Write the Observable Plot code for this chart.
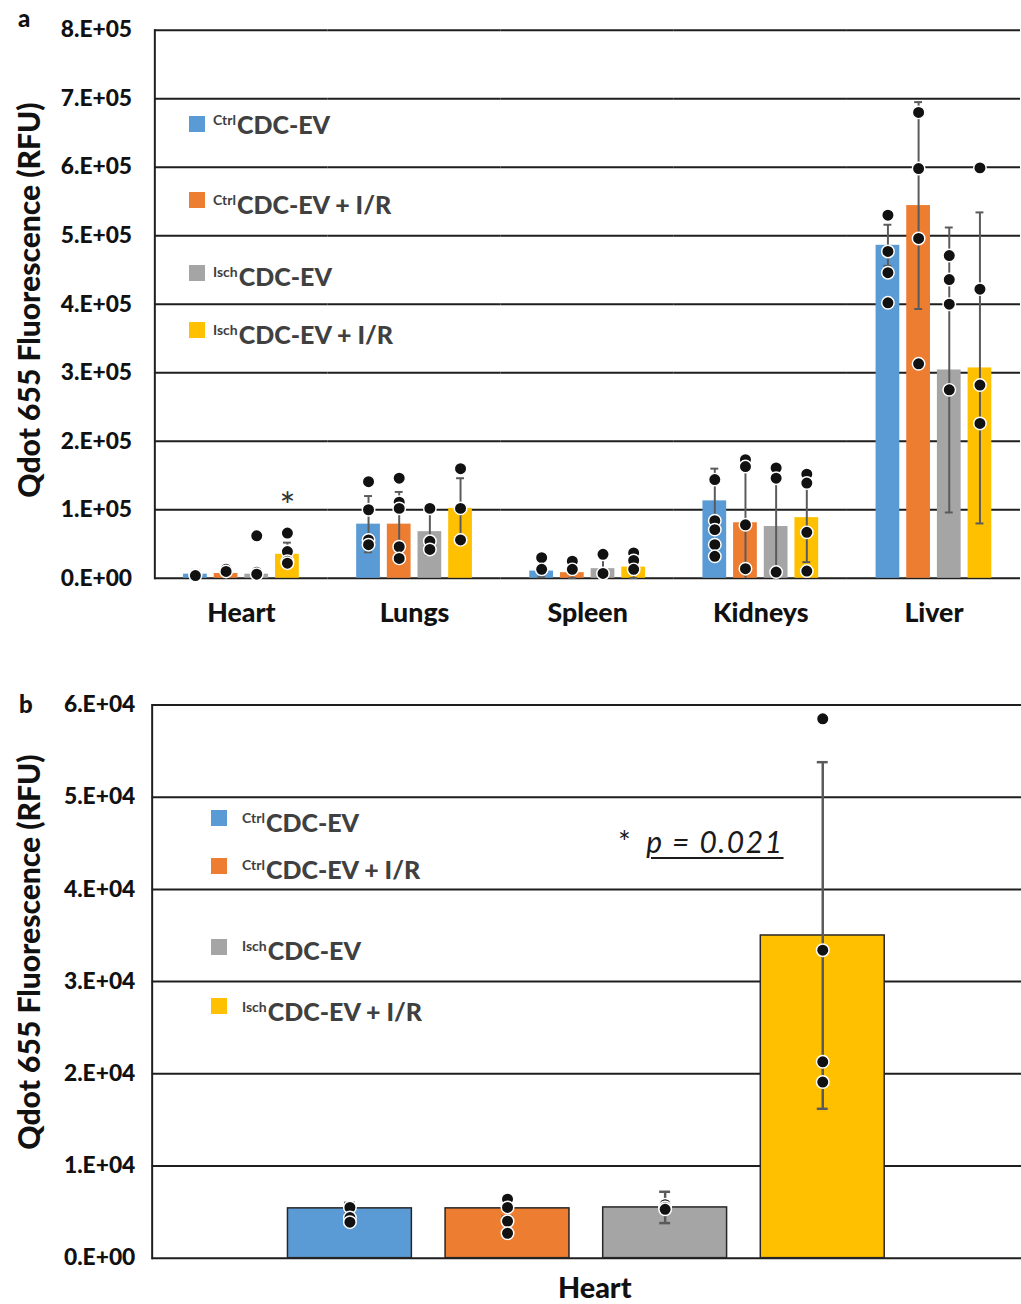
<!DOCTYPE html>
<html>
<head>
<meta charset="utf-8">
<script src="https://cdn.jsdelivr.net/npm/d3@7"></script>
<script src="https://cdn.jsdelivr.net/npm/@observablehq/plot@0.6"></script>
<style>
  html, body { margin: 0; padding: 0; background: white; }
  body { width: 1021px; font-family: Lato, "Open Sans", sans-serif; }
  .panel { position: relative; width: 1021px; overflow: hidden; background: white; }
  .panel svg { display: block; }
  .ov { position: absolute; white-space: nowrap; }
  .plabel { font-weight: 900; font-size: 24px; color: #111; line-height: 24px; }
  .ytitle { font-weight: 900; font-size: 30px; color: #111; line-height: 30px;
            transform: translate(-50%, -50%) rotate(-90deg); transform-origin: center; }
  .sq { position: absolute; width: 16px; height: 16px; }
  .leg { font-weight: 900; font-size: 25px; color: #404040; line-height: 25px; }
  .leg .sup { font-size: 14px; font-weight: 700; position: relative; top: -9px; margin-right: 1px; }
  .pval { font-size: 30px; color: #1a1a1a; line-height: 30px; }
  .pval i { text-decoration: underline; text-underline-offset: 4px; text-decoration-thickness: 2px; letter-spacing: 1.5px; }
</style>
</head>
<body>
<div id="panelA" class="panel" style="height:650px"></div>
<div id="panelB" class="panel" style="height:654px"></div>
<script>
// ---------- shared ----------
const groupKeys = ["Ctrl", "CtrlIR", "Isch", "IschIR"];
const groupSup = ["Ctrl", "Ctrl", "Isch", "Isch"];
const groupText = ["CDC-EV", "CDC-EV + I/R", "CDC-EV", "CDC-EV + I/R"];
const groupColors = ["#5B9BD5", "#ED7D31", "#A5A5A5", "#FFC000"];

// ---------- panel a data ----------
const organs = ["Heart", "Lungs", "Spleen", "Kidneys", "Liver"];
const meanCtrlA   = [6000, 79000, 10500, 113000, 486000];
const meanCtrlIRA = [7000, 79000, 8200, 81000, 544000];
const meanIschA   = [6000, 68000, 14000, 75500, 304000];
const meanIschIRA = [35000, 102000, 16300, 88500, 307000];
const sdCtrlA   = [2000, 41000, 9000, 47000, 30000];
const sdCtrlIRA = [3000, 47000, 8000, 88000, 151000];
const sdIschA   = [2000, 34000, 20000, 84000, 208000];
const sdIschIRA = [17000, 44000, 16000, 65000, 227000];
const ptsCtrlA = [[7000, 5000, 4000], [141000, 100000, 56000, 49000], [30000, 13000], [144000, 84000, 71000, 49000, 32000], [530000, 477000, 446000, 402000]];
const ptsCtrlIRA = [[13000, 10000], [146000, 111000, 102000, 46000, 29000], [25000, 13000], [173000, 163000, 78000, 14000], [680000, 598000, 496000, 313000]];
const ptsIschA = [[62000, 8700, 6000], [102000, 54000, 42000], [35000, 7000], [161000, 146000, 9000], [471000, 436000, 400000, 275000]];
const ptsIschIRA = [[66000, 39000, 25000, 22000], [160000, 102000, 56000], [37000, 26000, 13000], [152000, 139000, 67000, 10500], [599000, 422000, 282000, 226000]];
const ticksA = [0, 100000, 200000, 300000, 400000, 500000, 600000, 700000, 800000];
const tickLabelsA = ["0.E+00", "1.E+05", "2.E+05", "3.E+05", "4.E+05", "5.E+05", "6.E+05", "7.E+05", "8.E+05"];
const starOrganA = "Heart";
const starGroupA = "IschIR";

// ---------- panel b data ----------
const meanB = [5400, 5400, 5500, 35000];
const sdB = [600, 900, 1700, 18800];
const ptsB = [[5500, 4400, 3900], [6400, 5500, 4000, 2700], [5800, 5500, 5300], [58500, 33400, 21300, 19100]];
const ticksB = [0, 10000, 20000, 30000, 40000, 50000, 60000];
const tickLabelsB = ["0.E+00", "1.E+04", "2.E+04", "3.E+04", "4.E+04", "5.E+04", "6.E+04"];
const organB = "Heart";
const pText = "p = 0.021";

// ---------- build tables ----------
const meansA = [meanCtrlA, meanCtrlIRA, meanIschA, meanIschIRA];
const sdsA = [sdCtrlA, sdCtrlIRA, sdIschA, sdIschIRA];
const ptsA = [ptsCtrlA, ptsCtrlIRA, ptsIschA, ptsIschIRA];
const rowsA = organs.flatMap((o, i) => groupKeys.map((g, j) => ({organ: o, group: g, mean: meansA[j][i], sd: sdsA[j][i]})));
const dotsA = organs.flatMap((o, i) => groupKeys.flatMap((g, j) => ptsA[j][i].map(v => ({organ: o, group: g, value: v}))));
const starRows = rowsA.filter(d => d.organ === starOrganA && d.group === starGroupA);
const lo = d => Math.max(0, d.mean - d.sd);
const hi = d => d.mean + d.sd;

const rowsB = groupKeys.map((g, j) => ({group: g, mean: meanB[j], sd: sdB[j]}));
const dotsB = groupKeys.flatMap((g, j) => ptsB[j].map(v => ({group: g, value: v})));

const errColor = "#5a5a5a";
const gridColor = "#1e1e1e";

// ---------- panel a ----------
const plotA = Plot.plot({
  width: 1032, height: 650,
  marginLeft: 154, marginRight: 0, marginTop: 30, marginBottom: 66,
  style: {fontFamily: "Lato, sans-serif", background: "white", overflow: "visible"},
  fx: {domain: organs, padding: 0, label: null},
  x: {domain: groupKeys, paddingInner: 0.234, paddingOuter: 0.86, axis: null},
  y: {domain: [0, 800000], axis: null},
  color: {domain: groupKeys, range: groupColors},
  marks: [
    Plot.ruleY(ticksA, {stroke: gridColor, strokeWidth: 2}),
    Plot.barY(rowsA, {fx: "organ", x: "group", y: "mean", fill: "group"}),
    Plot.ruleX(rowsA, {fx: "organ", x: "group", y1: lo, y2: hi, stroke: errColor, strokeWidth: 2}),
    Plot.tickY(rowsA, {fx: "organ", x: "group", y: hi, inset: 8, stroke: errColor, strokeWidth: 2}),
    Plot.tickY(rowsA.filter(d => d.mean - d.sd > 0), {fx: "organ", x: "group", y: lo, inset: 8, stroke: errColor, strokeWidth: 2}),
    Plot.dot(dotsA, {fx: "organ", x: "group", y: "value", r: 6.3, fill: "#111", stroke: "white", strokeWidth: 1.5}),
    Plot.text(starRows, {fx: "organ", x: "group", y: hi, text: () => "*", dy: -36, fontSize: 38, fill: "#333"}),
    Plot.axisY({ticks: ticksA, tickFormat: d => tickLabelsA[ticksA.indexOf(d)], tickSize: 0, tickPadding: 23,
      fontSize: 23, fontWeight: 900, fill: "#111", label: null}),
    Plot.axisFx({anchor: "bottom", tickSize: 0, tickPadding: 25, fontSize: 27, fontWeight: 900, fill: "#111", label: null}),
    Plot.frame({anchor: "left", facetAnchor: "left", stroke: gridColor, strokeWidth: 2})
  ]
});
const pa = document.getElementById("panelA");
pa.appendChild(plotA);

// ---------- panel b ----------
const plotB = Plot.plot({
  width: 1030, height: 654,
  marginLeft: 153, marginRight: 0, marginTop: 55, marginBottom: 41,
  style: {fontFamily: "Lato, sans-serif", background: "white", overflow: "visible"},
  x: {domain: groupKeys, paddingInner: 0.212, paddingOuter: 0.86, axis: null},
  y: {domain: [0, 60000], axis: null},
  color: {domain: groupKeys, range: groupColors},
  marks: [
    Plot.ruleY(ticksB, {stroke: gridColor, strokeWidth: 2}),
    Plot.barY(rowsB, {x: "group", y: "mean", fill: "group", stroke: "#262626", strokeWidth: 1.5}),
    Plot.ruleX(rowsB, {x: "group", y1: lo, y2: hi, stroke: errColor, strokeWidth: 2.5}),
    Plot.tickY(rowsB, {x: "group", y: hi, inset: 57, stroke: errColor, strokeWidth: 2.5}),
    Plot.tickY(rowsB, {x: "group", y: lo, inset: 57, stroke: errColor, strokeWidth: 2.5}),
    Plot.dot(dotsB, {x: "group", y: "value", r: 6.3, fill: "#111", stroke: "white", strokeWidth: 1.5}),
    Plot.axisY({ticks: ticksB, tickFormat: d => tickLabelsB[ticksB.indexOf(d)], tickSize: 0, tickPadding: 17,
      fontSize: 23, fontWeight: 900, fill: "#111", label: null}),
    Plot.frame({anchor: "left", stroke: gridColor, strokeWidth: 2}),
    Plot.text([organB], {frameAnchor: "bottom", text: d => d, dx: 8, dy: 40, fontSize: 29, fontWeight: 900, fill: "#111"})
  ]
});
const pb = document.getElementById("panelB");
pb.appendChild(plotB);

// ---------- overlays ----------
function addDiv(parent, cls, html, left, top) {
  const d = document.createElement("div");
  d.className = "ov " + cls;
  d.innerHTML = html;
  d.style.left = left + "px";
  d.style.top = top + "px";
  parent.appendChild(d);
  return d;
}
addDiv(pa, "plabel", "a", 18, 6);
addDiv(pb, "plabel", "b", 19, 42);
addDiv(pa, "ytitle", "Qdot 655 Fluorescence (RFU)", 28, 300);
addDiv(pb, "ytitle", "Qdot 655 Fluorescence (RFU)", 28, 302);

function legend(parent, sqLeft, textLeft, sqTops, baselines) {
  groupKeys.forEach((g, j) => {
    const s = document.createElement("div");
    s.className = "sq";
    s.style.left = sqLeft + "px";
    s.style.top = sqTops[j] + "px";
    s.style.background = groupColors[j];
    parent.appendChild(s);
    addDiv(parent, "leg", `<span class="sup">${groupSup[j]}</span>${groupText[j]}`, textLeft, baselines[j] - 21);
  });
}
legend(pa, 189, 213, [116, 192, 265, 322], [133, 213, 285, 343]);
legend(pb, 211, 242, [810 - 650, 858 - 650, 939 - 650, 998 - 650], [831 - 650, 878 - 650, 959 - 650, 1020 - 650]);

addDiv(pb, "pval", `*&nbsp;&nbsp;<i>${pText}</i>`, 618, 826 - 650);
</script>
</body>
</html>
